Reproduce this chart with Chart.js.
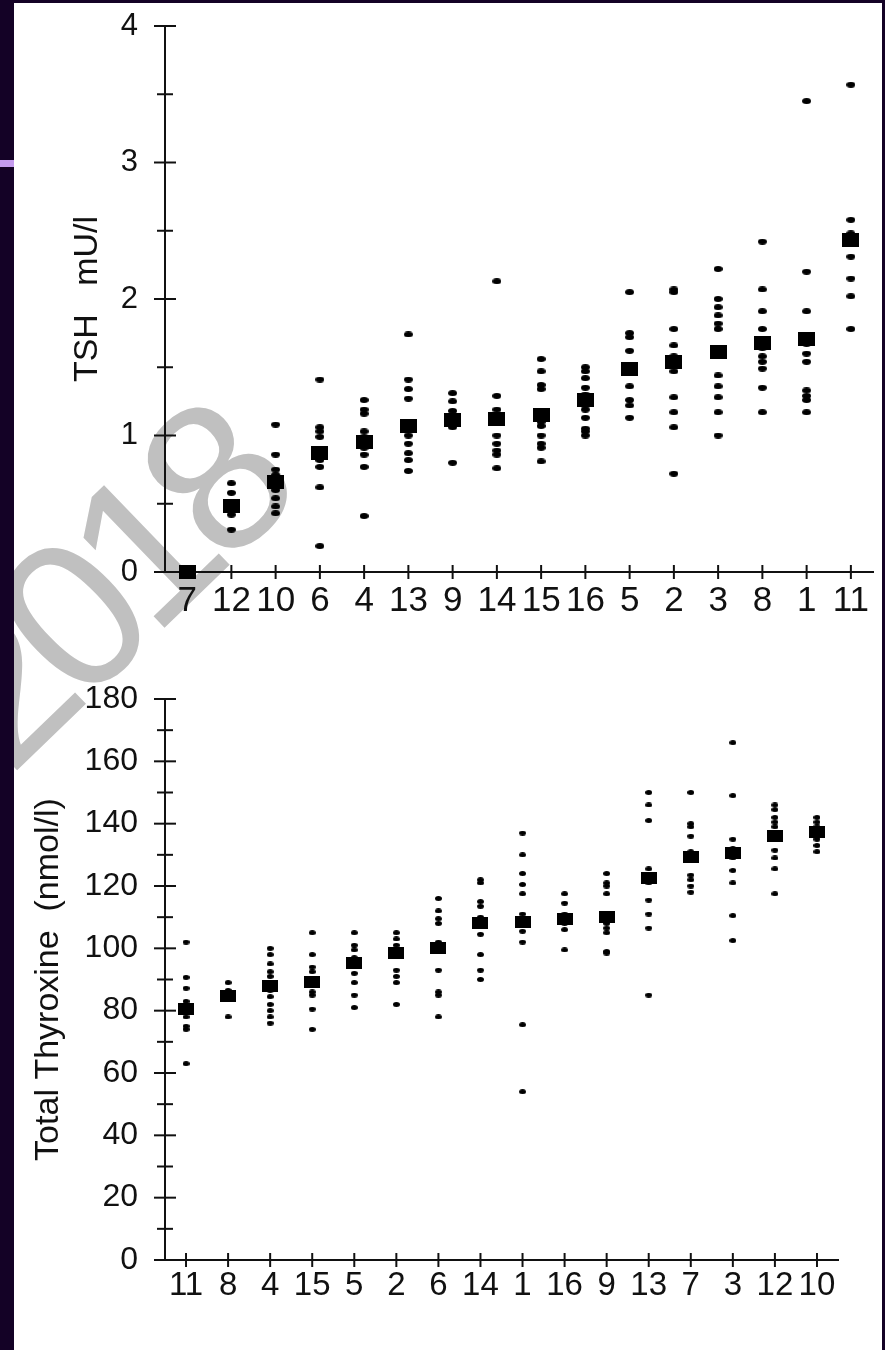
<!DOCTYPE html>
<html>
<head>
<meta charset="utf-8">
<script src="https://cdn.jsdelivr.net/npm/chart.js@4.4.1/dist/chart.umd.min.js"></script>
<style>
html,body{margin:0;padding:0;background:#fff;}
body{width:885px;height:1350px;position:relative;overflow:hidden;font-family:"Liberation Sans",Arial,sans-serif;}
#wm{position:absolute;left:-147px;top:472px;width:500px;height:230px;line-height:230px;font-size:210px;color:#c0c0c0;text-align:center;white-space:nowrap;letter-spacing:-17px;transform:rotate(-44deg);transform-origin:50% 50%;z-index:0;font-family:"Liberation Sans",Arial,sans-serif;}
canvas{position:absolute;left:0;z-index:1;}
#c1{top:0;}
#c2{top:640px;}
.fr{position:absolute;background:#140226;z-index:2;}
</style>
</head>
<body>
<div id="wm">2018</div>
<canvas id="c1" width="885" height="640"></canvas>
<canvas id="c2" width="885" height="710"></canvas>
<div class="fr" style="left:0;top:0;width:14px;height:1350px"></div>
<div class="fr" style="left:0;top:0;width:885px;height:3px"></div>
<div class="fr" style="left:882px;top:0;width:3px;height:1350px"></div>
<div class="fr" style="left:0;top:160px;width:14px;height:7px;background:#c59bef"></div>
<script>
// ---------- DATA ----------
const tshCats = ['7','12','10','6','4','13','9','14','15','16','5','2','3','8','1','11'];
const tshMeans = [0, 0.48, 0.66, 0.87, 0.95, 1.07, 1.11, 1.12, 1.15, 1.26, 1.49, 1.54, 1.61, 1.68, 1.71, 2.43];
const tshValues = [
  [0, 0, 0],
  [0.65, 0.58, 0.50, 0.46, 0.42, 0.31],
  [1.08, 0.86, 0.75, 0.71, 0.66, 0.60, 0.54, 0.48, 0.43],
  [1.41, 1.06, 1.03, 0.99, 0.88, 0.85, 0.82, 0.77, 0.62, 0.19],
  [1.26, 1.19, 1.16, 1.03, 0.99, 0.95, 0.91, 0.86, 0.77, 0.41],
  [1.74, 1.41, 1.34, 1.27, 1.10, 1.07, 1.00, 0.94, 0.87, 0.82, 0.74],
  [1.31, 1.25, 1.18, 1.13, 1.10, 1.06, 0.80],
  [2.13, 1.29, 1.19, 1.13, 1.00, 0.94, 0.89, 0.86, 0.76],
  [1.56, 1.47, 1.37, 1.34, 1.15, 1.10, 1.07, 1.00, 0.94, 0.91, 0.81],
  [1.50, 1.47, 1.42, 1.35, 1.30, 1.26, 1.22, 1.19, 1.13, 1.05, 1.03, 1.00],
  [2.05, 1.75, 1.72, 1.62, 1.49, 1.36, 1.26, 1.22, 1.13],
  [2.07, 2.05, 1.78, 1.66, 1.58, 1.55, 1.52, 1.47, 1.28, 1.17, 1.06, 0.72],
  [2.22, 2.00, 1.94, 1.88, 1.82, 1.78, 1.61, 1.44, 1.36, 1.28, 1.17, 1.00],
  [2.42, 2.07, 1.91, 1.78, 1.70, 1.64, 1.58, 1.54, 1.49, 1.35, 1.17],
  [3.45, 2.20, 1.91, 1.72, 1.67, 1.60, 1.54, 1.33, 1.29, 1.26, 1.17],
  [3.57, 2.58, 2.48, 2.43, 2.31, 2.15, 2.02, 1.78]
];
const tshYTicks = [0, 1, 2, 3, 4];
const tshTitle = 'TSH   mU/l';

const t4Cats = ['11','8','4','15','5','2','6','14','1','16','9','13','7','3','12','10'];
const t4Means = [80.5, 84.7, 88, 89.3, 95.4, 98.6, 100, 108, 108.5, 109.4, 110, 122.5, 129.4, 130.5, 136, 137.4];
const t4Values = [
  [102, 90.7, 87.2, 83, 81, 79.5, 78, 75, 74, 63],
  [89, 86.5, 85, 83.5, 78],
  [100, 98, 95, 92.5, 91, 88, 86.5, 84.5, 82, 80, 78, 76],
  [105, 98, 94, 92.5, 89, 86, 85, 80.5, 74],
  [105, 101, 99.5, 97, 95, 92, 89, 85, 81],
  [105, 103, 101, 99, 98, 93, 91, 89, 82],
  [116, 112, 109.5, 108, 102, 100.5, 99.5, 93, 86, 85, 78],
  [122, 121, 115, 113.5, 110, 108, 104.5, 98, 93, 90],
  [137, 130, 124, 120.5, 117.5, 111, 109, 108, 105.5, 102, 75.5, 54],
  [117.5, 114.5, 111, 109.5, 108, 106, 99.5],
  [124, 121, 120, 117.5, 111, 108, 106.5, 105, 99, 98.5],
  [150, 146, 141, 125.5, 123, 121, 115.5, 111, 106.5, 85],
  [150, 140, 139, 136, 131, 129, 123.5, 122, 120, 118],
  [166, 149, 135, 132, 130.5, 129, 125, 121, 110.5, 102.5],
  [146, 144.5, 142, 140.5, 139, 136, 135, 131.5, 129, 125.5, 117.5],
  [142, 140.5, 139, 137.5, 136, 135, 133, 131]
];
const t4YTicks = [0, 20, 40, 60, 80, 100, 120, 140, 160, 180];
const t4Title = 'Total Thyroxine  (nmol/l)';

// ---------- STYLE HELPERS ----------
const FONT = '"Liberation Sans", Arial, sans-serif';
const INK = '#111';
function ellipseImg(w, h) {
  const c = document.createElement('canvas'); c.width = w; c.height = h;
  const g = c.getContext('2d'); g.fillStyle = '#000';
  g.beginPath(); g.ellipse(w / 2, h / 2, w / 2, h / 2, 0, 0, Math.PI * 2); g.fill();
  return c;
}
function rectImg(w, h) {
  const c = document.createElement('canvas'); c.width = w; c.height = h;
  const g = c.getContext('2d'); g.fillStyle = '#000'; g.fillRect(0, 0, w, h);
  return c;
}

const tickMarks = {
  id: 'tickMarks',
  beforeDatasetsDraw(chart, args, opts) {
    const ctx = chart.ctx, xs = chart.scales.x, ys = chart.scales.y;
    const ax = chart.chartArea.left, ay = chart.chartArea.bottom;
    ctx.save();
    ctx.strokeStyle = INK; ctx.lineWidth = 2;
    ys.ticks.forEach(t => {
      const py = ys.getPixelForValue(t.value);
      const h = opts.majorY.includes(t.value) ? 11 : 8;
      ctx.beginPath(); ctx.moveTo(ax - h, py); ctx.lineTo(ax + h, py); ctx.stroke();
    });
    xs.ticks.forEach((t, i) => {
      const px = xs.getPixelForTick(i);
      ctx.beginPath(); ctx.moveTo(px, ay - 7); ctx.lineTo(px, ay + 7); ctx.stroke();
    });
    ctx.restore();
  }
};

function makeChart(id, cats, means, values, yTicks, yMax, yStep, title, cfg) {
  const pts = [];
  values.forEach((arr, i) => arr.forEach(v => pts.push({ x: cats[i], y: v })));
  return new Chart(document.getElementById(id), {
    type: 'scatter',
    data: {
      datasets: [
        { label: 'mean', data: means.map((m, i) => ({ x: cats[i], y: m })),
          pointStyle: rectImg(cfg.sqW, cfg.sqH), pointRadius: 8, order: 0, clip: false },
        { label: 'values', data: pts,
          pointStyle: ellipseImg(cfg.dotW, cfg.dotH), pointRadius: 4, order: 1, clip: false }
      ]
    },
    options: {
      responsive: false, animation: false, events: [], devicePixelRatio: 1,
      layout: { autoPadding: false, padding: { left: 0, top: cfg.top, right: cfg.right, bottom: 0 } },
      plugins: { legend: { display: false }, tooltip: { enabled: false }, tickMarks: { majorY: yTicks } },
      scales: {
        x: {
          type: 'category', labels: cats, offset: true,
          grid: { display: false, drawTicks: false },
          border: { display: true, color: INK, width: 2 },
          ticks: { color: INK, font: { size: cfg.xFont, family: FONT }, padding: cfg.xPad,
                   autoSkip: false, maxRotation: 0, minRotation: 0 },
          afterFit(s) { s.height = cfg.xH; s.paddingLeft = 0; s.paddingRight = 0; }
        },
        y: {
          type: 'linear', min: 0, max: yMax,
          grid: { display: false, drawTicks: false },
          border: { display: true, color: INK, width: 2 },
          ticks: { stepSize: yStep, autoSkip: false, color: INK, font: { size: cfg.yFont, family: FONT },
                   padding: cfg.yPad, callback: v => yTicks.includes(v) ? String(v) : '' },
          title: { display: true, text: title, color: INK, font: { size: cfg.tFont, family: FONT },
                   padding: { top: cfg.tPad, bottom: 0 } },
          afterFit(s) { s.width = 165; s.paddingTop = 0; s.paddingBottom = 0; }
        }
      }
    },
    plugins: [tickMarks]
  });
}

makeChart('c1', tshCats, tshMeans, tshValues, tshYTicks, 4, 0.5, tshTitle,
  { top: 26, right: 12, xH: 68, xFont: 35, xPad: 8, yFont: 31, yPad: 27, tFont: 34, tPad: 67,
    sqW: 17, sqH: 14, dotW: 9, dotH: 6 });
makeChart('c2', t4Cats, t4Means, t4Values, t4YTicks, 180, 10, t4Title,
  { top: 59, right: 47, xH: 90, xFont: 33, xPad: 6, yFont: 32, yPad: 27, tFont: 34, tPad: 28,
    sqW: 16, sqH: 12, dotW: 7, dotH: 5 });
</script>
</body>
</html>
